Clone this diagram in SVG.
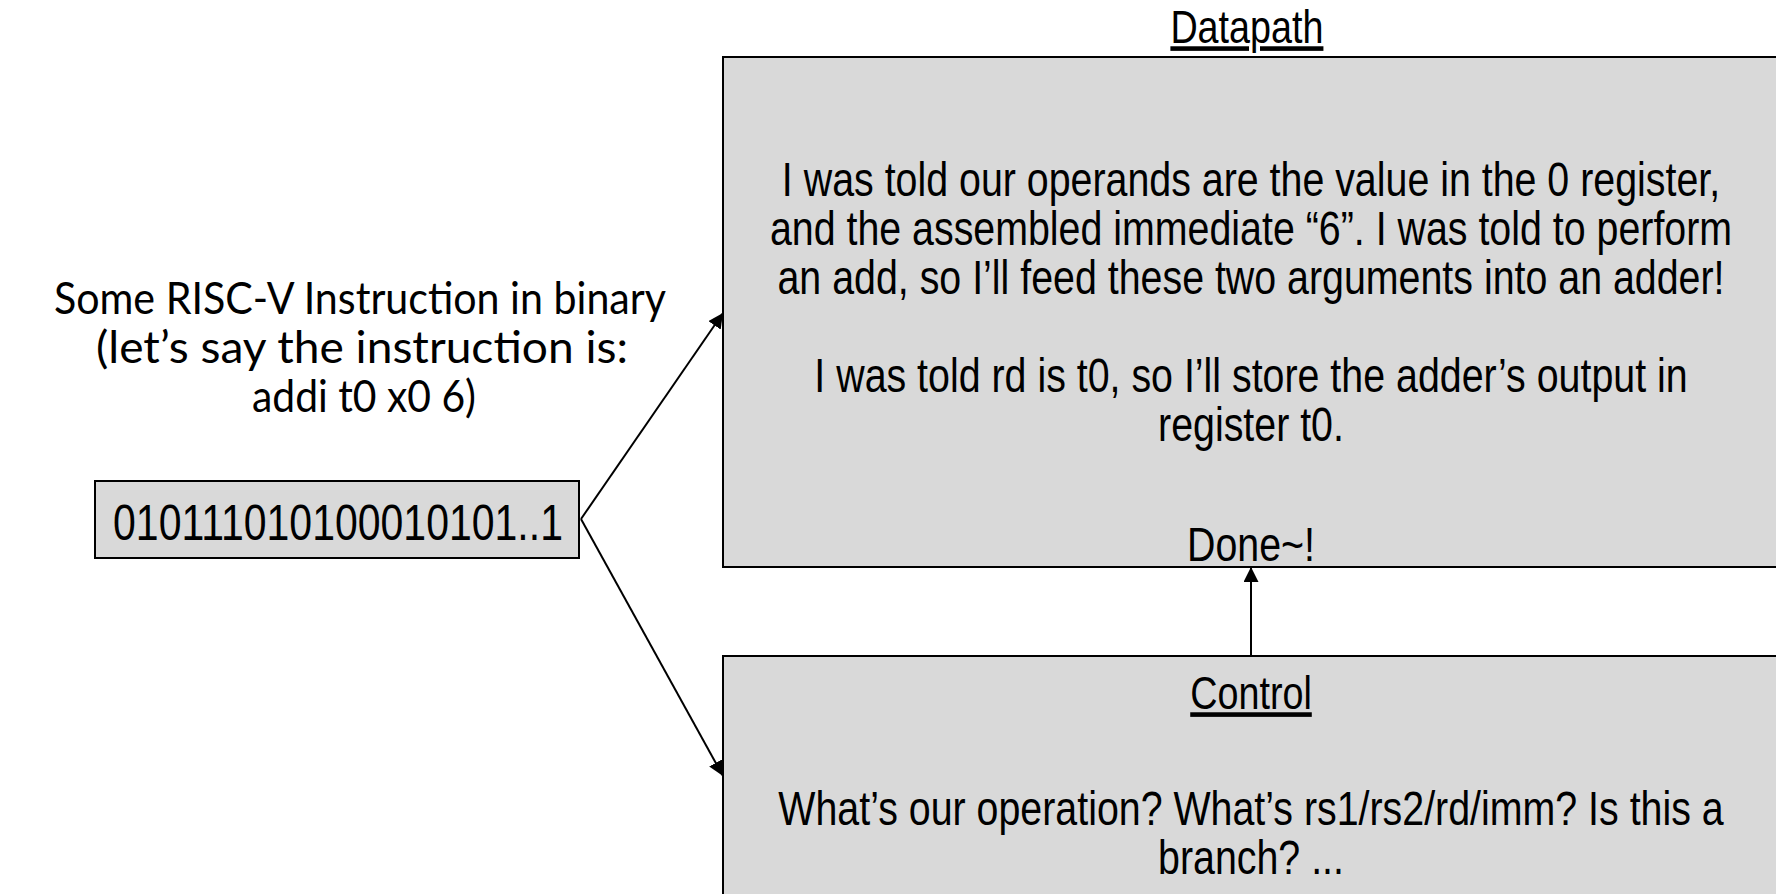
<svg xmlns="http://www.w3.org/2000/svg" width="1776" height="894" viewBox="0 0 1776 894">
  <defs>
    <marker id="arrowhead" viewBox="0 0 10 10" refX="10" refY="5" markerWidth="15" markerHeight="15" markerUnits="userSpaceOnUse" orient="auto">
      <path d="M0,0 L10,5 L0,10 z" fill="#000"/>
    </marker>
  </defs>
  <style>
    .box { fill: #d9d9d9; stroke: #000; stroke-width: 2; }
    /* Arial-metric face, squeezed horizontally by the group transform to a narrow cut */
    .narrow { font-family: "Liberation Sans", Arial, sans-serif; fill: #000; text-anchor: middle; }
    .body { font-size: 48px; }
    .title { font-size: 46px; text-decoration: underline; }
    .cal { font-family: Lato, "Open Sans", "Noto Sans", sans-serif; font-size: 44px; fill: #000; text-anchor: middle; }
    .wire { stroke: #000; stroke-width: 2; fill: none; marker-end: url(#arrowhead); }
  </style>
  <rect width="1776" height="894" fill="#fff"/>

  <!-- instruction description -->
  <g id="instruction-label">
    <text class="cal" x="360" y="314" textLength="612" lengthAdjust="spacingAndGlyphs">Some RISC-V Instruction in binary</text>
    <text class="cal" x="362" y="363" textLength="532" lengthAdjust="spacingAndGlyphs">(let’s say the instruction is:</text>
    <text class="cal" x="364" y="412" textLength="224" lengthAdjust="spacingAndGlyphs">addi t0 x0 6)</text>
  </g>

  <!-- encoded instruction word -->
  <g id="binary">
    <rect class="box" x="95" y="481" width="484" height="77"/>
    <g transform="translate(338 0) scale(0.82 1)">
      <text class="narrow" x="0" y="540" font-size="50">010111010100010101..1</text>
    </g>
  </g>

  <!-- datapath block -->
  <g id="datapath">
    <rect class="box" x="723" y="57" width="1060" height="510"/>
    <g transform="translate(1251 0) scale(0.82 1)">
      <text class="narrow title" x="-5" y="43">Datapath</text>
      <text class="narrow body" x="0" y="196">I was told our operands are the value in the 0 register,</text>
      <text class="narrow body" x="0" y="245">and the assembled immediate “6”. I was told to perform</text>
      <text class="narrow body" x="0" y="294">an add, so I’ll feed these two arguments into an adder!</text>
      <text class="narrow body" x="0" y="392">I was told rd is t0, so I’ll store the adder’s output in</text>
      <text class="narrow body" x="0" y="441">register t0.</text>
      <text class="narrow body" x="0" y="561">Done~!</text>
    </g>
  </g>

  <!-- control block -->
  <g id="control">
    <rect class="box" x="723" y="656" width="1060" height="260"/>
    <g transform="translate(1251 0) scale(0.82 1)">
      <text class="narrow title" x="0" y="709">Control</text>
      <text class="narrow body" x="0" y="825">What’s our operation? What’s rs1/rs2/rd/imm? Is this a</text>
      <text class="narrow body" x="0" y="874">branch? ...</text>
    </g>
  </g>

  <!-- connectors -->
  <g id="connectors">
    <line class="wire" x1="581" y1="519" x2="723" y2="313"/>
    <line class="wire" x1="581" y1="519" x2="723" y2="776"/>
    <line class="wire" x1="1251" y1="656" x2="1251" y2="567"/>
  </g>
</svg>
